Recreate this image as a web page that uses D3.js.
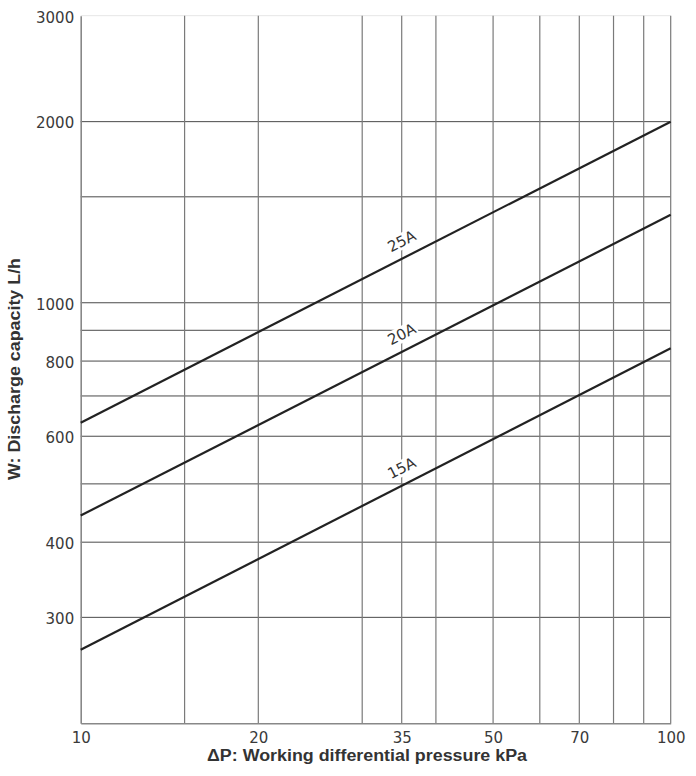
<!DOCTYPE html>
<html>
<head>
<meta charset="utf-8">
<script src="https://cdn.jsdelivr.net/npm/d3@7"></script>
<style>
  body { margin: 0; background: #fff; }
  text { font-family: "DejaVu Sans", "Liberation Sans", sans-serif; }
</style>
</head>
<body>
<svg width="696" height="776"></svg>
<script>
// values (log-log, straight lines)
const pressure = [10, 100]
const flow15A = [265, 840]
const flow20A = [443, 1400]
const flow25A = [632, 2000]
const seriesNames = ["15A", "20A", "25A"]
const xTickValues = [10, 20, 35, 50, 70, 100]
const xGridValues = [15, 20, 30, 35, 40, 50, 60, 70, 80, 90, 100]
const yTickValues = [300, 400, 600, 800, 1000, 2000, 3000]
const yGridValues = [300, 400, 500, 600, 700, 800, 900, 1000, 1500, 2000]
const labelPressure = 35

const svg = d3.select("svg")
const margin = { top: 15.7, right: 25.3, bottom: 52.7, left: 80.7 }
const width = +svg.attr("width") - margin.left - margin.right
const height = +svg.attr("height") - margin.top - margin.bottom
const g = svg.append("g").attr("transform", `translate(${margin.left},${margin.top})`)

const x = d3.scaleLog().domain([10, 100]).range([0, width])
const y = d3.scaleLog().domain([200, 3000]).range([height, 0])

// grid
g.append("line")
  .attr("x1", 0).attr("x2", width).attr("y1", 0).attr("y2", 0)
  .attr("stroke", "#e6e6e6").attr("stroke-width", 1)

g.selectAll(".hgrid").data(yGridValues).join("line")
  .attr("x1", 0).attr("x2", width)
  .attr("y1", d => y(d)).attr("y2", d => y(d))
  .attr("stroke", "#4a4a4a").attr("stroke-width", 1)

g.selectAll(".vgrid").data(xGridValues).join("line")
  .attr("x1", d => x(d)).attr("x2", d => x(d))
  .attr("y1", 0).attr("y2", height)
  .attr("stroke", "#7a7a7a").attr("stroke-width", 1.2)

// axes
const tickFont = "'DejaVu Sans', sans-serif"

const xAxis = g.append("g")
  .attr("transform", `translate(0,${height})`)
  .call(d3.axisBottom(x).tickValues(xTickValues).tickFormat(d3.format("d")).tickSize(0).tickPadding(9))
xAxis.select(".domain").attr("stroke", "#888").attr("stroke-width", 1.6)
xAxis.selectAll("text")
  .style("font-size", "15px").style("fill", "#3a3a3a").style("font-family", tickFont)

const yAxis = g.append("g")
  .call(d3.axisLeft(y).tickValues(yTickValues).tickFormat(d3.format("d")).tickSize(0).tickPadding(6.5))
yAxis.select(".domain").attr("stroke", "#888").attr("stroke-width", 1.6)
yAxis.selectAll("text")
  .attr("dy", "0.42em")
  .style("font-size", "15px").style("fill", "#3a3a3a").style("font-family", tickFont)

// curves
const series = [flow15A, flow20A, flow25A].map((vals, i) => ({
  name: seriesNames[i],
  points: pressure.map((p, j) => ({ p: p, w: vals[j] }))
}))

const line = d3.line().x(d => x(d.p)).y(d => y(d.w))

g.selectAll(".curve").data(series).join("path")
  .attr("fill", "none")
  .attr("stroke", "#222")
  .attr("stroke-width", 2.2)
  .attr("d", d => line(d.points))

// curve labels, sitting just above each line at 35 kPa
series.forEach(s => {
  const a = s.points[0], b = s.points[s.points.length - 1]
  const angle = Math.atan2(y(b.w) - y(a.w), x(b.p) - x(a.p)) * 180 / Math.PI
  const logT = (Math.log(labelPressure) - Math.log(a.p)) / (Math.log(b.p) - Math.log(a.p))
  const wAt = Math.exp(Math.log(a.w) + logT * (Math.log(b.w) - Math.log(a.w)))
  const lg = g.append("g")
    .attr("transform", `translate(${x(labelPressure)},${y(wAt)}) rotate(${angle}) translate(8,-16)`)
  const t = lg.append("text")
    .attr("text-anchor", "middle")
    .attr("dy", "0.36em")
    .style("font-size", "15px")
    .style("fill", "#333")
    .style("font-family", tickFont)
    .text(s.name)
  const bb = t.node().getBBox()
  lg.insert("rect", "text")
    .attr("x", bb.x - 1).attr("y", bb.y + 1)
    .attr("width", bb.width + 2).attr("height", bb.height - 2)
    .attr("fill", "#fff")
})

// axis titles
svg.append("text")
  .attr("x", 367)
  .attr("y", 761)
  .attr("text-anchor", "middle")
  .style("font-family", "'Liberation Sans', Arial, sans-serif")
  .style("font-size", "16px")
  .style("font-weight", "bold")
  .style("fill", "#333")
  .attr("textLength", 320)
  .attr("lengthAdjust", "spacingAndGlyphs")
  .text("ΔP: Working differential pressure kPa")

svg.append("text")
  .attr("transform", "translate(19.5,369) rotate(-90)")
  .attr("text-anchor", "middle")
  .style("font-family", "'Liberation Sans', Arial, sans-serif")
  .style("font-size", "16px")
  .style("font-weight", "bold")
  .style("fill", "#333")
  .attr("textLength", 222)
  .attr("lengthAdjust", "spacingAndGlyphs")
  .text("W: Discharge capacity L/h")
</script>
</body>
</html>
